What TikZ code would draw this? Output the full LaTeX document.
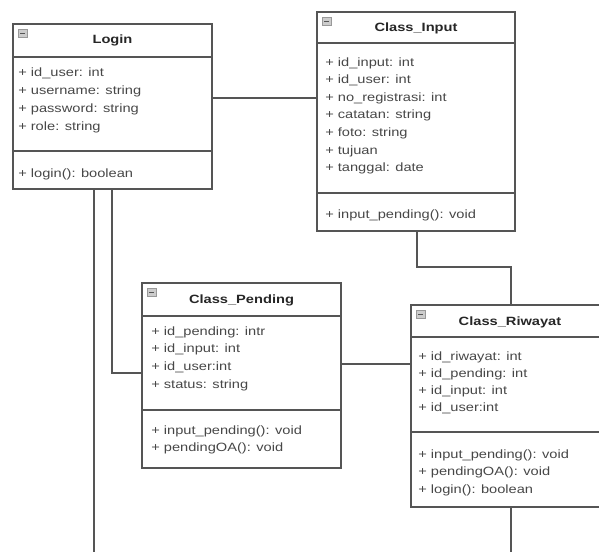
\documentclass[tikz,border=0pt]{standalone}
\usepackage{fontspec}
\setmainfont[FakeStretch=1.22]{Liberation Sans}
\usetikzlibrary{fit}

\definecolor{umlline}{HTML}{555555}
\definecolor{umltext}{HTML}{474747}
\definecolor{umlicon}{HTML}{CCCCCC}

\tikzset{
  classbox/.style={draw=umlline, line width=0.9pt, inner sep=0pt},
  divider/.style={draw=umlline, line width=0.9pt},
  link/.style={draw=umlline, line width=0.9pt},
  attr/.style={anchor=west, inner sep=0pt, text=umltext, font=\fontsize{9}{10}\selectfont},
  title/.style={inner sep=0pt, text=black!85, font=\bfseries\fontsize{9}{10}\selectfont},
  icon/.style={draw=umlline!60, fill=umlicon, line width=0.4pt},
}

\begin{document}
\begin{tikzpicture}[x=0.75pt, y=-0.75pt]
  \useasboundingbox (0,0) rectangle (599,552);
  \clip (0,0) rectangle (599,552);

  % class boxes
  \node[classbox, fit={(13,24) (212,189)}] (login) {};
  \node[classbox, fit={(317,12) (515,231)}] (input) {};
  \node[classbox, fit={(142,283) (341,468)}] (pending) {};
  \node[classbox, fit={(411,305) (609,507)}] (riwayat) {};

  % dividers and collapse icons
  \foreach \b/\h/\m in {login/57/151, input/43/193, pending/316/410, riwayat/337/432} {
    \draw[divider] (\b.west |- 0,\h) -- (\b.east |- 0,\h);
    \draw[divider] (\b.west |- 0,\m) -- (\b.east |- 0,\m);
    \draw[icon] ([shift={(6,6)}]\b.north west) rectangle +(9,8);
    \draw[umlline, line width=0.5pt] ([shift={(8,10)}]\b.north west) -- +(5,0);
  }

  % titles
  \node[title] (login-title) at (login.north |- 0,40) {Login};
  \node[title] (input-title) at (input.north |- 0,28) {Class\_Input};
  \node[title] (pending-title) at (pending.north |- 0,300) {Class\_Pending};
  \node[title] (riwayat-title) at (riwayat.north |- 0,322) {Class\_Riwayat};

  % attributes
  \foreach \t [count=\i] in {+ id\_user: int, + username: string, + password: string, + role: string}
    \node[attr] (login-a\i) at (18, 55+18*\i) {\t};
  \foreach \t [count=\i] in {+ id\_input: int, + id\_user: int, + no\_registrasi: int, + catatan: string,
      + foto: string, + tujuan, + tanggal: date}
    \node[attr] (input-a\i) at (325, 45.4+17.6*\i) {\t};
  \foreach \t [count=\i] in {+ id\_pending: intr, + id\_input: int, + id\_user:int, + status: string}
    \node[attr] (pending-a\i) at (151, 314.3+17.7*\i) {\t};
  \foreach \t [count=\i] in {+ id\_riwayat: int, + id\_pending: int, + id\_input: int, + id\_user:int}
    \node[attr] (riwayat-a\i) at (418, 340+17*\i) {\t};

  % methods
  \node[attr] (login-m1) at (18,174) {+ login(): boolean};
  \node[attr] (input-m1) at (325,215) {+ input\_pending(): void};
  \foreach \t [count=\i] in {+ input\_pending(): void, + pendingOA(): void}
    \node[attr] (pending-m\i) at (151, 413.5+17.5*\i) {\t};
  \foreach \t [count=\i] in {+ input\_pending(): void, + pendingOA(): void, + login(): boolean}
    \node[attr] (riwayat-m\i) at (418, 437.5+17.5*\i) {\t};

  % associations
  \coordinate (login-end) at (94,552);
  \coordinate (riwayat-end) at (511,552);
  \draw[link] (login.east |- 0,98) -- (input.west |- 0,98);
  \draw[link] (login.south -| 112,0) |- (pending.west |- 0,373);
  \draw[link] (login.south -| 94,0) -- (login-end);
  \draw[link] (input.south -| 417,0) |- (511,267) -- (riwayat.north -| 511,0);
  \draw[link] (pending.east |- 0,364) -- (riwayat.west |- 0,364);
  \draw[link] (riwayat.south -| 511,0) -- (riwayat-end);
\end{tikzpicture}
\end{document}
